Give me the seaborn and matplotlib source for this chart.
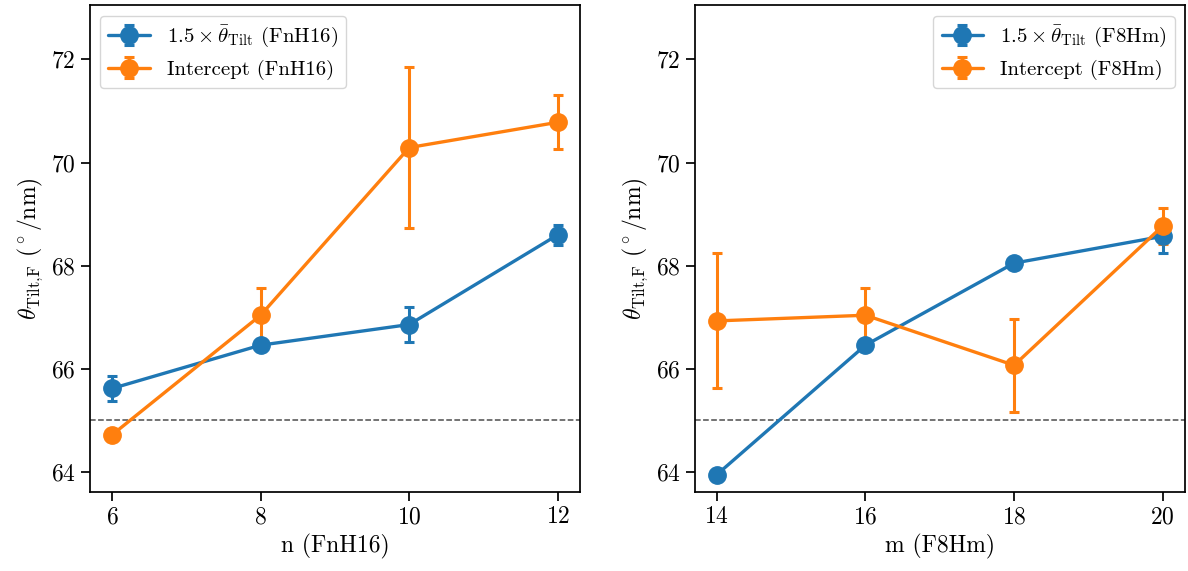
import numpy as np
import seaborn as sns
import matplotlib.pyplot as plt

# FnH16 series (left panel)
n_vals = [6, 8, 10, 12]
tilt_n = [65.62, 66.46, 66.86, 68.60]
tilt_n_err = [0.24, 0.10, 0.34, 0.19]
icpt_n = [64.72, 67.04, 70.29, 70.78]
icpt_n_err = [0.05, 0.52, 1.56, 0.52]

# F8Hm series (right panel)
m_vals = [14, 16, 18, 20]
tilt_m = [63.95, 66.46, 68.05, 68.57]
tilt_m_err = [0.10, 0.10, 0.08, 0.32]
icpt_m = [66.93, 67.04, 66.07, 68.77]
icpt_m_err = [1.31, 0.52, 0.90, 0.34]

ref_line = 65.0

sns.set_style("ticks", {"axes.edgecolor": "black", "xtick.color": "black",
                        "ytick.color": "black", "text.color": "black",
                        "axes.labelcolor": "black"})
plt.rcParams.update({
    "font.family": "serif",
    "font.serif": ["cmr10"],
    "mathtext.fontset": "cm",
    "axes.unicode_minus": False,
    "axes.formatter.use_mathtext": True,
    "axes.linewidth": 1.25,
})
blue, orange = sns.color_palette("tab10")[:2]

fig, axes = plt.subplots(1, 2, figsize=(11.88, 5.71), dpi=100)
fig.subplots_adjust(left=0.0755, right=0.9975, bottom=0.138, top=0.991, wspace=0.233)

panels = [
    (axes[0], n_vals, tilt_n, tilt_n_err, icpt_n, icpt_n_err, "FnH16", "n (FnH16)", "upper left"),
    (axes[1], m_vals, tilt_m, tilt_m_err, icpt_m, icpt_m_err, "F8Hm", "m (F8Hm)", "upper right"),
]

style = dict(fmt="-o", markersize=12.5, linewidth=2.4, capsize=3.5, capthick=2.2, elinewidth=2.2)

for ax, x, t, te, ic, ice, tag, xlab, loc in panels:
    ax.errorbar(x, t, yerr=te, color=blue, label=r"$1.5\times\bar{\theta}_{\rm Tilt}$ (" + tag + ")", **style)
    ax.errorbar(x, ic, yerr=ice, color=orange, label="Intercept (" + tag + ")", **style)
    ax.axhline(ref_line, color="0.3", linestyle="--", linewidth=1.1)
    ax.set_ylim(63.61, 73.05)
    ax.set_xticks(x)
    ax.set_yticks([64, 66, 68, 70, 72])
    ax.set_xlabel(xlab, fontsize=17)
    ax.set_ylabel(r"$\theta_{\rm Tilt{,}F}$ ($^\circ$/nm)", fontsize=17)
    ax.tick_params(labelsize=17, width=1.25, length=6.5)
    ax.legend(loc=loc, fontsize=15)

plt.savefig("out.png", dpi=100)
